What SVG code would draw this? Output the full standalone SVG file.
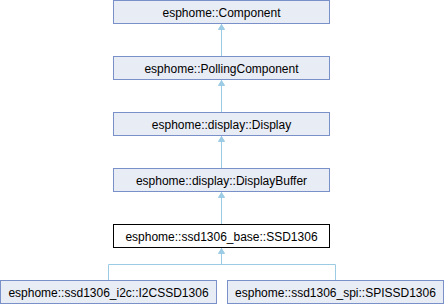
<svg xmlns="http://www.w3.org/2000/svg" width="444" height="304" viewBox="0 0 444 304">
<defs>
<style>
.n rect{fill:#e8ecf5;stroke:#7a90c8;stroke-width:1}
.n.cur rect{fill:#ffffff;stroke:#000000}
.n text{font-family:"Liberation Sans",Arial,sans-serif;font-size:12px;fill:#000;text-anchor:middle}
.e{stroke:#9ccbe5;stroke-width:1;fill:none}
.h{fill:#9ccbe5;stroke:#9ccbe5;stroke-width:1}
</style>
</defs>
<rect width="444" height="304" fill="#ffffff"/>
<g id="connectors">
<path class="e" d="M221.5,56.5 V24"/>
<path class="e" d="M221.5,112.5 V80"/>
<path class="e" d="M221.5,168.5 V136"/>
<path class="e" d="M221.5,224.5 V192"/>
<path class="e" d="M108.5,280.5 V264.5 H335.5 V280.5 M221.5,264.5 V248"/>
<path class="h" d="M221.5,24.5 L224.5,29.5 L218.5,29.5 Z"/>
<path class="h" d="M221.5,80.5 L224.5,85.5 L218.5,85.5 Z"/>
<path class="h" d="M221.5,136.5 L224.5,141.5 L218.5,141.5 Z"/>
<path class="h" d="M221.5,192.5 L224.5,197.5 L218.5,197.5 Z"/>
<path class="h" d="M221.5,248.5 L224.5,253.5 L218.5,253.5 Z"/>
</g>
<g id="n0" class="n"><rect x="113.5" y="0.5" width="216" height="23"/><text x="221.5" y="16.5">esphome::Component</text></g>
<g id="n1" class="n"><rect x="113.5" y="56.5" width="216" height="23"/><text x="221.5" y="72.5">esphome::PollingComponent</text></g>
<g id="n2" class="n"><rect x="113.5" y="112.5" width="216" height="23"/><text x="221.5" y="128.5">esphome::display::Display</text></g>
<g id="n3" class="n"><rect x="113.5" y="168.5" width="216" height="23"/><text x="221.5" y="184.5">esphome::display::DisplayBuffer</text></g>
<g id="n4" class="n cur"><rect x="113.5" y="224.5" width="216" height="23"/><text x="221.5" y="240.5">esphome::ssd1306_base::SSD1306</text></g>
<g id="n5" class="n"><rect x="0.5" y="280.5" width="216" height="23"/><text x="108.5" y="296.5">esphome::ssd1306_i2c::I2CSSD1306</text></g>
<g id="n6" class="n"><rect x="227.5" y="280.5" width="216" height="23"/><text x="335.5" y="296.5">esphome::ssd1306_spi::SPISSD1306</text></g>
</svg>
